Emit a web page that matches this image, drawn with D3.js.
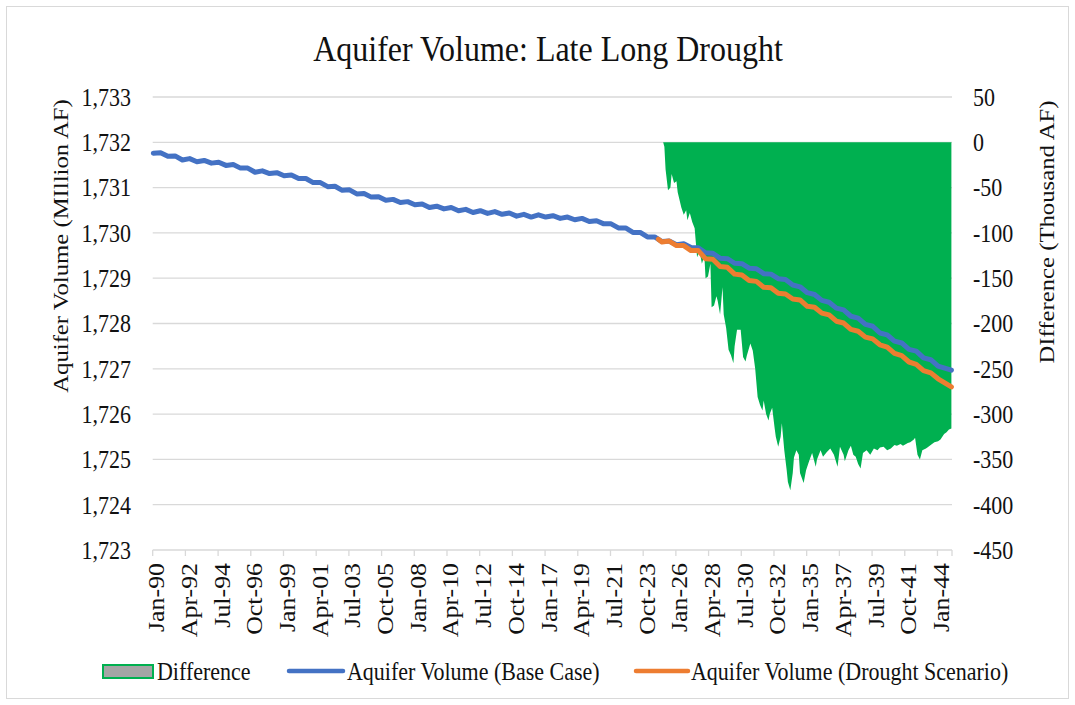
<!DOCTYPE html>
<html><head><meta charset="utf-8">
<script src="https://cdn.jsdelivr.net/npm/d3@7/dist/d3.min.js"></script>
<style>
html,body{margin:0;padding:0;background:#fff;}
svg{display:block;}
text{font-family:"Liberation Serif","Times New Roman",serif;fill:#111;}
</style></head>
<body>
<svg id="c" width="1075" height="705"></svg>
<script>
// ---------- DATA ----------
const chartTitle = "Aquifer Volume: Late Long Drought";
const leftAxisTitle = "Aquifer Volume (MIllion AF)";
const rightAxisTitle = "DIfference (Thousand AF)";
const leftTicks = [1723,1724,1725,1726,1727,1728,1729,1730,1731,1732,1733];
const rightTicks = [-450,-400,-350,-300,-250,-200,-150,-100,-50,0,50];
const xTickLabels = ["Jan-90","Apr-92","Jul-94","Oct-96","Jan-99","Apr-01","Jul-03","Oct-05","Jan-08","Apr-10","Jul-12","Oct-14","Jan-17","Apr-19","Jul-21","Oct-23","Jan-26","Apr-28","Jul-30","Oct-32","Jan-35","Apr-37","Jul-39","Oct-41","Jan-44"];
const seriesNames = ["Difference","Aquifer Volume (Base Case)","Aquifer Volume (Drought Scenario)"];

const baseDates = ["1990-01","1990-07","1991-01","1991-07","1992-01","1992-07","1993-01","1993-07","1994-01","1994-07","1995-01","1995-07","1996-01","1996-07","1997-01","1997-07","1998-01","1998-07","1999-01","1999-07","2000-01","2000-07","2001-01","2001-07","2002-01","2002-07","2003-01","2003-07","2004-01","2004-07","2005-01","2005-07","2006-01","2006-07","2007-01","2007-07","2008-01","2008-07","2009-01","2009-07","2010-01","2010-07","2011-01","2011-07","2012-01","2012-07","2013-01","2013-07","2014-01","2014-07","2015-01","2015-07","2016-01","2016-07","2017-01","2017-07","2018-01","2018-07","2019-01","2019-07","2020-01","2020-07","2021-01","2021-07","2022-01","2022-07","2023-01","2023-07","2024-01","2024-07","2025-01","2025-07","2026-01","2026-07","2027-01","2027-07","2028-01","2028-07","2029-01","2029-07","2030-01","2030-07","2031-01","2031-07","2032-01","2032-07","2033-01","2033-07","2034-01","2034-07","2035-01","2035-07","2036-01","2036-07","2037-01","2037-07","2038-01","2038-07","2039-01","2039-07","2040-01","2040-07","2041-01","2041-07","2042-01","2042-07","2043-01","2043-07","2044-01","2044-12"];
const baseValues = [1731.76,1731.77,1731.69,1731.70,1731.61,1731.64,1731.57,1731.60,1731.54,1731.56,1731.49,1731.51,1731.43,1731.43,1731.34,1731.37,1731.31,1731.33,1731.26,1731.28,1731.20,1731.20,1731.11,1731.11,1731.02,1731.03,1730.94,1730.95,1730.86,1730.87,1730.79,1730.80,1730.72,1730.74,1730.67,1730.69,1730.62,1730.64,1730.56,1730.59,1730.53,1730.56,1730.49,1730.52,1730.45,1730.49,1730.43,1730.47,1730.41,1730.44,1730.37,1730.41,1730.35,1730.40,1730.35,1730.38,1730.32,1730.35,1730.29,1730.32,1730.25,1730.27,1730.20,1730.20,1730.11,1730.11,1730.01,1730.01,1729.91,1729.91,1729.81,1729.82,1729.74,1729.76,1729.68,1729.67,1729.56,1729.55,1729.44,1729.43,1729.33,1729.32,1729.22,1729.21,1729.10,1729.09,1728.99,1728.97,1728.85,1728.81,1728.68,1728.64,1728.51,1728.47,1728.34,1728.30,1728.16,1728.12,1727.98,1727.94,1727.79,1727.75,1727.61,1727.57,1727.43,1727.39,1727.24,1727.20,1727.06,1726.97];

const droughtDates = ["2024-10","2025-01","2025-07","2026-01","2026-07","2027-01","2027-07","2028-01","2028-07","2029-01","2029-07","2030-01","2030-07","2031-01","2031-07","2032-01","2032-07","2033-01","2033-07","2034-01","2034-07","2035-01","2035-07","2036-01","2036-07","2037-01","2037-07","2038-01","2038-07","2039-01","2039-07","2040-01","2040-07","2041-01","2041-07","2042-01","2042-07","2043-01","2043-07","2044-01","2044-12"];
const droughtValues = [1729.86,1729.80,1729.82,1729.72,1729.72,1729.61,1729.61,1729.43,1729.42,1729.26,1729.24,1729.09,1729.07,1728.95,1728.93,1728.80,1728.79,1728.67,1728.65,1728.54,1728.52,1728.38,1728.36,1728.23,1728.19,1728.05,1728.01,1727.87,1727.83,1727.70,1727.66,1727.53,1727.48,1727.34,1727.29,1727.15,1727.10,1726.96,1726.91,1726.78,1726.60];

const diffDates = ["2025-02","2025-03","2025-04","2025-06","2025-08","2025-09","2025-11","2026-01","2026-02","2026-05","2026-07","2026-09","2026-10","2026-12","2027-02","2027-04","2027-06","2027-08","2027-10","2027-12","2028-01","2028-03","2028-05","2028-06","2028-08","2028-10","2028-11","2029-01","2029-03","2029-04","2029-06","2029-08","2029-10","2029-12","2030-01","2030-03","2030-06","2030-08","2030-10","2030-11","2031-02","2031-04","2031-06","2031-08","2031-10","2031-12","2032-01","2032-03","2032-05","2032-06","2032-08","2032-10","2032-11","2033-01","2033-03","2033-04","2033-06","2033-08","2033-09","2033-11","2034-01","2034-02","2034-04","2034-06","2034-07","2034-10","2034-12","2035-02","2035-03","2035-05","2035-08","2035-09","2035-12","2036-02","2036-05","2036-08","2036-11","2037-02","2037-04","2037-07","2037-08","2037-11","2038-01","2038-03","2038-05","2038-07","2038-09","2038-11","2039-02","2039-05","2039-08","2039-11","2040-01","2040-04","2040-07","2040-10","2041-01","2041-03","2041-06","2041-08","2041-12","2042-02","2042-05","2042-06","2042-08","2042-10","2042-12","2043-03","2043-05","2043-08","2043-10","2044-01","2044-03","2044-06","2044-08","2044-10","2044-12"];
const diffValues = [0,-5,-30,-53,-50,-35,-45,-43,-55,-72,-80,-75,-86,-78,-88,-95,-127,-120,-134,-125,-150,-148,-134,-182,-180,-170,-175,-190,-160,-190,-205,-229,-235,-244,-225,-207,-207,-237,-242,-236,-222,-230,-250,-281,-290,-296,-285,-300,-307,-300,-293,-315,-325,-336,-325,-310,-340,-362,-375,-384,-365,-348,-340,-345,-365,-376,-362,-354,-350,-343,-358,-350,-340,-347,-342,-338,-345,-358,-336,-345,-352,-340,-335,-345,-347,-355,-360,-343,-340,-345,-338,-340,-337,-336,-340,-338,-334,-335,-333,-335,-332,-331,-328,-326,-345,-350,-340,-338,-336,-333,-331,-330,-328,-322,-320,-317,-316];

// ---------- HELPERS ----------
const toYear = s => { const [y,m] = s.split("-").map(Number); return y + (m-1)/12; };
const STRETCH = 1.15;
const svg = d3.select("#c");

const plotL = 152.7, plotR = 952, plotT = 97, plotB = 550;
const x = d3.scaleLinear().domain([1990 - 1/24, 2045 - 1/24]).range([plotL, plotR]);
const yL = d3.scaleLinear().domain([1723, 1733]).range([plotB, plotT]);
const yR = d3.scaleLinear().domain([-450, 50]).range([plotB, plotT]);

function label(g, px, py, str, opts) {
  const o = Object.assign({size:22, anchor:"middle", rotate:false, dy:"0.35em"}, opts||{});
  return g.append("text")
    .attr("transform", `translate(${px},${py}) scale(1,${STRETCH})` + (o.rotate ? " rotate(-90)" : ""))
    .attr("text-anchor", o.anchor)
    .attr("dy", o.dy)
    .style("font-size", o.size + "px")
    .text(str);
}

// border
svg.append("rect").attr("x",6.5).attr("y",6.5).attr("width",1062).attr("height",692)
  .attr("fill","none").attr("stroke","#d9d9d9").attr("stroke-width",1);

// gridlines
const grid = svg.append("g");
grid.selectAll("line").data(leftTicks.slice(1)).join("line")
  .attr("x1", plotL).attr("x2", plotR)
  .attr("y1", d => yL(d)).attr("y2", d => yL(d))
  .attr("stroke", "#d9d9d9").attr("stroke-width", 1.3);

// difference area
const diffData = diffDates.map((d,i) => ({t: toYear(d), v: diffValues[i]}));
svg.append("path").datum(diffData)
  .attr("d", d3.area().x(d => x(d.t)).y0(yR(0)).y1(d => yR(d.v)))
  .attr("fill", "#00B050");

// lines
const baseData = baseDates.map((d,i) => ({t: toYear(d), v: baseValues[i]}));
const drData = droughtDates.map((d,i) => ({t: toYear(d), v: droughtValues[i]}));
const line = d3.line().x(d => x(d.t)).y(d => yL(d.v));
svg.append("path").datum(baseData).attr("d", line)
  .attr("fill","none").attr("stroke","#4472C4").attr("stroke-width",5).attr("stroke-linejoin","round").attr("stroke-linecap","round");
svg.append("path").datum(drData).attr("d", line)
  .attr("fill","none").attr("stroke","#ED7D31").attr("stroke-width",5).attr("stroke-linejoin","round").attr("stroke-linecap","round");

// x axis line + ticks
const xa = svg.append("g");
xa.append("line").attr("x1", plotL).attr("x2", plotR).attr("y1", plotB).attr("y2", plotB)
  .attr("stroke","#d9d9d9").attr("stroke-width",1.5);
const tickYears = xTickLabels.map((_,k) => 1990 + 27*k/12);
xa.selectAll("line.tk").data(tickYears.concat([2045])).join("line").attr("class","tk")
  .attr("x1", d => x(d - 1/24)).attr("x2", d => x(d - 1/24))
  .attr("y1", plotB).attr("y2", plotB + 6)
  .attr("stroke","#d9d9d9").attr("stroke-width",1.3);
xTickLabels.forEach((s,k) => label(xa, x(tickYears[k]) + 3, 563, s, {anchor:"end", rotate:true, size:22.5}));

// left ticks
const la = svg.append("g");
leftTicks.forEach(v => label(la, 131, yL(v), d3.format(",")(v), {anchor:"end"}));
// right ticks
const ra = svg.append("g");
rightTicks.forEach(v => label(ra, 973, yR(v), String(v), {anchor:"start"}));

// titles
label(svg, 548, 48, chartTitle, {size:32});
label(svg, 60, 246, leftAxisTitle, {rotate:true, size:21.5});
label(svg, 1046, 232, rightAxisTitle, {rotate:true, size:21.5});

// legend
const lg = svg.append("g");
lg.append("rect").attr("x",103).attr("y",665).attr("width",50).attr("height",13)
  .attr("fill","#A5A5A5").attr("stroke","#00B050").attr("stroke-width",2);
label(lg, 157, 671, seriesNames[0], {anchor:"start"});
lg.append("line").attr("x1",289).attr("x2",343).attr("y1",671).attr("y2",671)
  .attr("stroke","#4472C4").attr("stroke-width",4.5).attr("stroke-linecap","round");
label(lg, 347, 671, seriesNames[1], {anchor:"start"});
lg.append("line").attr("x1",636).attr("x2",688).attr("y1",671).attr("y2",671)
  .attr("stroke","#ED7D31").attr("stroke-width",4.5).attr("stroke-linecap","round");
label(lg, 691, 671, seriesNames[2], {anchor:"start"});
</script>
</body></html>
